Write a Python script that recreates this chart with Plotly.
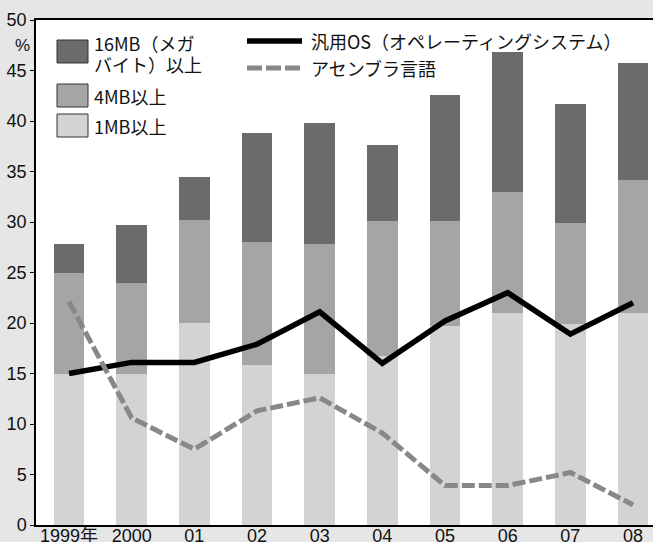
import plotly.graph_objects as go

years = ["1999年", "2000", "01", "02", "03", "04", "05", "06", "07", "08"]
mb1 = [15.0, 15.0, 20.0, 15.8, 15.0, 16.7, 19.7, 21.0, 19.9, 21.0]
mb4_cum = [25.0, 24.0, 30.2, 28.0, 27.8, 30.1, 30.1, 33.0, 29.9, 34.2]
mb16_cum = [27.8, 29.7, 34.5, 38.8, 39.8, 37.6, 42.6, 46.8, 41.7, 45.7]
os_line = [15.0, 16.1, 16.1, 17.9, 21.1, 16.0, 20.2, 23.0, 18.9, 22.0]
asm_line = [22.1, 10.6, 7.5, 11.3, 12.6, 9.1, 3.9, 3.9, 5.2, 2.0]

mb4 = [b - a for a, b in zip(mb1, mb4_cum)]
mb16 = [c - b for b, c in zip(mb4_cum, mb16_cum)]
xs = list(range(len(years)))

C16, C4, C1 = "#6b6b6b", "#a5a5a5", "#d3d3d3"
FONT = "Liberation Sans, Noto Sans CJK JP, sans-serif"
JFONT = "Noto Sans CJK JP, sans-serif"

fig = go.Figure()
for vals, col in [(mb1, C1), (mb4, C4), (mb16, C16)]:
    fig.add_trace(go.Bar(x=xs, y=vals, marker=dict(color=col, line=dict(width=0)),
                         width=0.49, showlegend=False, hoverinfo="skip"))
fig.add_trace(go.Scatter(x=xs, y=os_line, mode="lines",
                         line=dict(color="#000000", width=5.5), showlegend=False))
fig.add_trace(go.Scatter(x=xs, y=asm_line, mode="lines",
                         line=dict(color="#888888", width=5, dash="13px,4px"), showlegend=False))

L, R, T, B = 36, 653, 20, 525
def px(x):
    return (x - L) / (R - L)
def py(y):
    return (B - y) / (B - T)

shapes = []
annotations = []
# bar legend
for (y0, y1, col) in [(40, 63, C16), (84, 107, C4), (114, 137, C1)]:
    shapes.append(dict(type="rect", xref="paper", yref="paper",
                       x0=px(57), x1=px(88), y0=py(y1), y1=py(y0),
                       fillcolor=col, line=dict(color="#333333", width=1)))
for txt, y in [("16MB（メガ", 43), ("バイト）以上", 64), ("4MB以上", 96), ("1MB以上", 126)]:
    annotations.append(dict(text=txt, xref="paper", yref="paper", x=px(92), y=py(y),
                            xanchor="left", yanchor="middle", showarrow=False,
                            font=dict(family=JFONT, size=18, color="#111")))
# line legend
shapes.append(dict(type="line", xref="paper", yref="paper", x0=px(247), x1=px(302),
                   y0=py(41), y1=py(41), line=dict(color="#000", width=5.5)))
shapes.append(dict(type="line", xref="paper", yref="paper", x0=px(247), x1=px(302),
                   y0=py(68), y1=py(68), line=dict(color="#888888", width=5, dash="15px,4px")))
for txt, y in [("汎用OS（オペレーティングシステム）", 41), ("アセンブラ言語", 68)]:
    annotations.append(dict(text=txt, xref="paper", yref="paper", x=px(309), y=py(y),
                            xanchor="left", yanchor="middle", showarrow=False,
                            font=dict(family=JFONT, size=18, color="#111")))
annotations.append(dict(text="%", xref="paper", yref="paper", x=px(22), y=py(45),
                        xanchor="center", yanchor="middle", showarrow=False,
                        font=dict(family=FONT, size=17, color="#111")))

fig.update_layout(
    barmode="stack",
    width=653, height=542,
    margin=dict(l=L, r=653 - R, t=T, b=542 - B, autoexpand=False),
    paper_bgcolor="#e6e6e6", plot_bgcolor="#ffffff",
    font=dict(family=FONT, size=18, color="#111"),
    shapes=shapes, annotations=annotations,
    xaxis=dict(range=[-0.527, 9.319], tickmode="array", tickvals=xs, ticktext=years,
               showgrid=False, zeroline=False, showline=True, linecolor="#000",
               linewidth=1.5, mirror=True, ticks="", automargin=False,
               ticklabelstandoff=-6,
               tickfont=dict(family=FONT, size=18)),
    yaxis=dict(range=[0, 50], tickvals=list(range(0, 51, 5)), showgrid=False,
               zeroline=False, showline=True, linecolor="#000", linewidth=1.5,
               ticks="outside", ticklen=4, tickcolor="#000", tickwidth=1,
               automargin=False, tickfont=dict(family=FONT, size=18)),
)
fig.write_html("out.html")
